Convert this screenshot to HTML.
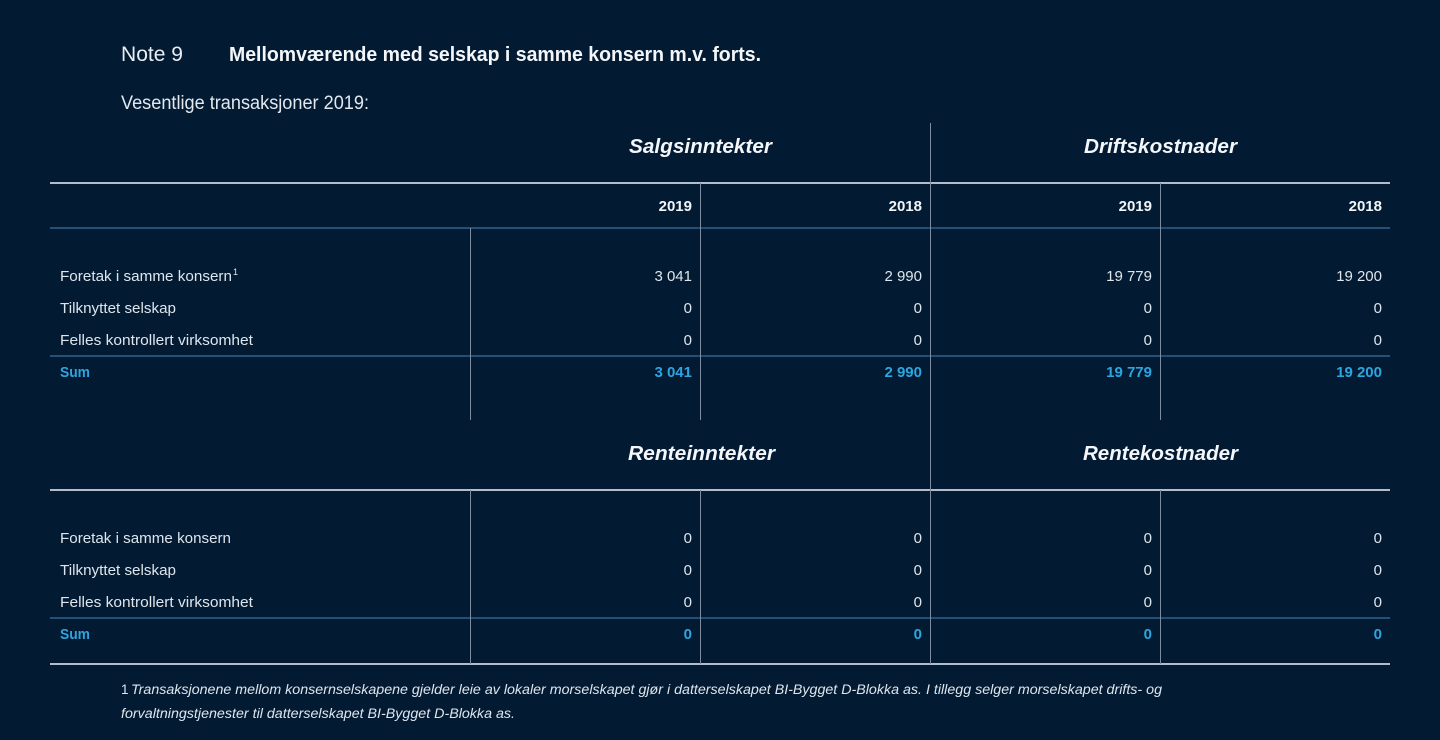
<!DOCTYPE html>
<html>
<head>
<meta charset="utf-8">
<style>
html,body{margin:0;padding:0;background:#021b33;}
svg{display:block;}
text{font-family:"Liberation Sans",sans-serif;}
.lt{fill:#dfe5ec;font-size:15px;}
.yr{fill:#f2f5f8;font-size:15px;font-weight:bold;}
.hd{fill:#f4f6f9;font-size:20px;font-weight:bold;font-style:italic;}
.sm{fill:#2ea5df;font-size:15px;font-weight:bold;}
.fn{fill:#dfe5ec;font-size:13.5px;}
</style>
</head>
<body>
<svg width="1440" height="740" viewBox="0 0 1440 740" xmlns="http://www.w3.org/2000/svg">
<rect x="0" y="0" width="1440" height="740" fill="#021b33"/>

<!-- Titles -->
<text x="121" y="61" style="fill:#e8edf2;font-size:21px;" textLength="62" lengthAdjust="spacingAndGlyphs">Note 9</text>
<text x="229" y="61" style="fill:#f4f6f9;font-size:20px;font-weight:bold;" textLength="532" lengthAdjust="spacingAndGlyphs">Mellomværende med selskap i samme konsern m.v. forts.</text>
<text x="121" y="109" style="fill:#e3e8ee;font-size:19px;" textLength="248" lengthAdjust="spacingAndGlyphs">Vesentlige transaksjoner 2019:</text>

<!-- Lines -->
<g fill="none">
<line x1="50" y1="183" x2="1390" y2="183" stroke="#b3bcc8" stroke-width="2"/>
<line x1="50" y1="228" x2="1390" y2="228" stroke="#22507a" stroke-width="2"/>
<line x1="50" y1="356" x2="1390" y2="356" stroke="#22507a" stroke-width="2"/>
<line x1="50" y1="490" x2="1390" y2="490" stroke="#b3bcc8" stroke-width="2"/>
<line x1="50" y1="618" x2="1390" y2="618" stroke="#22507a" stroke-width="2"/>
<line x1="50" y1="664" x2="1390" y2="664" stroke="#b3bcc8" stroke-width="2"/>

<line x1="930.5" y1="123" x2="930.5" y2="664" stroke="#7f8ca0" stroke-width="1"/>
<line x1="700.5" y1="183" x2="700.5" y2="420" stroke="#7f8ca0" stroke-width="1"/>
<line x1="700.5" y1="490" x2="700.5" y2="664" stroke="#7f8ca0" stroke-width="1"/>
<line x1="1160.5" y1="183" x2="1160.5" y2="420" stroke="#7f8ca0" stroke-width="1"/>
<line x1="1160.5" y1="490" x2="1160.5" y2="664" stroke="#7f8ca0" stroke-width="1"/>
<line x1="470.5" y1="228" x2="470.5" y2="420" stroke="#7f8ca0" stroke-width="1"/>
<line x1="470.5" y1="490" x2="470.5" y2="664" stroke="#7f8ca0" stroke-width="1"/>
</g>

<!-- Section headers -->
<text class="hd" x="629" y="153" textLength="143" lengthAdjust="spacingAndGlyphs">Salgsinntekter</text>
<text class="hd" x="1084" y="153" textLength="153" lengthAdjust="spacingAndGlyphs">Driftskostnader</text>
<text class="hd" x="628" y="460" textLength="147" lengthAdjust="spacingAndGlyphs">Renteinntekter</text>
<text class="hd" x="1083" y="460" textLength="155" lengthAdjust="spacingAndGlyphs">Rentekostnader</text>

<!-- Year headers -->
<text class="yr" x="692" y="211" text-anchor="end">2019</text>
<text class="yr" x="922" y="211" text-anchor="end">2018</text>
<text class="yr" x="1152" y="211" text-anchor="end">2019</text>
<text class="yr" x="1382" y="211" text-anchor="end">2018</text>

<!-- Section 1 rows -->
<text class="lt" x="60" y="281" textLength="172" lengthAdjust="spacingAndGlyphs">Foretak i samme konsern</text>
<text class="lt" x="233" y="275" style="font-size:9px;">1</text>
<text class="lt" x="60" y="313" textLength="116" lengthAdjust="spacingAndGlyphs">Tilknyttet selskap</text>
<text class="lt" x="60" y="345" textLength="193" lengthAdjust="spacingAndGlyphs">Felles kontrollert virksomhet</text>
<text class="sm" x="60" y="377" textLength="30" lengthAdjust="spacingAndGlyphs">Sum</text>

<text class="lt" x="692" y="281" text-anchor="end">3 041</text>
<text class="lt" x="922" y="281" text-anchor="end">2 990</text>
<text class="lt" x="1152" y="281" text-anchor="end">19 779</text>
<text class="lt" x="1382" y="281" text-anchor="end">19 200</text>

<text class="lt" x="692" y="313" text-anchor="end">0</text>
<text class="lt" x="922" y="313" text-anchor="end">0</text>
<text class="lt" x="1152" y="313" text-anchor="end">0</text>
<text class="lt" x="1382" y="313" text-anchor="end">0</text>

<text class="lt" x="692" y="345" text-anchor="end">0</text>
<text class="lt" x="922" y="345" text-anchor="end">0</text>
<text class="lt" x="1152" y="345" text-anchor="end">0</text>
<text class="lt" x="1382" y="345" text-anchor="end">0</text>

<text class="sm" x="692" y="377" text-anchor="end">3 041</text>
<text class="sm" x="922" y="377" text-anchor="end">2 990</text>
<text class="sm" x="1152" y="377" text-anchor="end">19 779</text>
<text class="sm" x="1382" y="377" text-anchor="end">19 200</text>

<!-- Section 2 rows -->
<text class="lt" x="60" y="543" textLength="171" lengthAdjust="spacingAndGlyphs">Foretak i samme konsern</text>
<text class="lt" x="60" y="575" textLength="116" lengthAdjust="spacingAndGlyphs">Tilknyttet selskap</text>
<text class="lt" x="60" y="607" textLength="193" lengthAdjust="spacingAndGlyphs">Felles kontrollert virksomhet</text>
<text class="sm" x="60" y="639" textLength="30" lengthAdjust="spacingAndGlyphs">Sum</text>

<text class="lt" x="692" y="543" text-anchor="end">0</text>
<text class="lt" x="922" y="543" text-anchor="end">0</text>
<text class="lt" x="1152" y="543" text-anchor="end">0</text>
<text class="lt" x="1382" y="543" text-anchor="end">0</text>

<text class="lt" x="692" y="575" text-anchor="end">0</text>
<text class="lt" x="922" y="575" text-anchor="end">0</text>
<text class="lt" x="1152" y="575" text-anchor="end">0</text>
<text class="lt" x="1382" y="575" text-anchor="end">0</text>

<text class="lt" x="692" y="607" text-anchor="end">0</text>
<text class="lt" x="922" y="607" text-anchor="end">0</text>
<text class="lt" x="1152" y="607" text-anchor="end">0</text>
<text class="lt" x="1382" y="607" text-anchor="end">0</text>

<text class="sm" x="692" y="639" text-anchor="end">0</text>
<text class="sm" x="922" y="639" text-anchor="end">0</text>
<text class="sm" x="1152" y="639" text-anchor="end">0</text>
<text class="sm" x="1382" y="639" text-anchor="end">0</text>

<!-- Footnote -->
<text class="fn" x="121" y="694">1</text>
<text class="fn" x="131" y="694" style="font-style:italic;" textLength="1031" lengthAdjust="spacingAndGlyphs">Transaksjonene mellom konsernselskapene gjelder leie av lokaler morselskapet gjør i datterselskapet BI-Bygget D-Blokka as. I tillegg selger morselskapet drifts- og</text>
<text class="fn" x="121" y="718" style="font-style:italic;" textLength="394" lengthAdjust="spacingAndGlyphs">forvaltningstjenester til datterselskapet BI-Bygget D-Blokka as.</text>
</svg>
</body>
</html>
